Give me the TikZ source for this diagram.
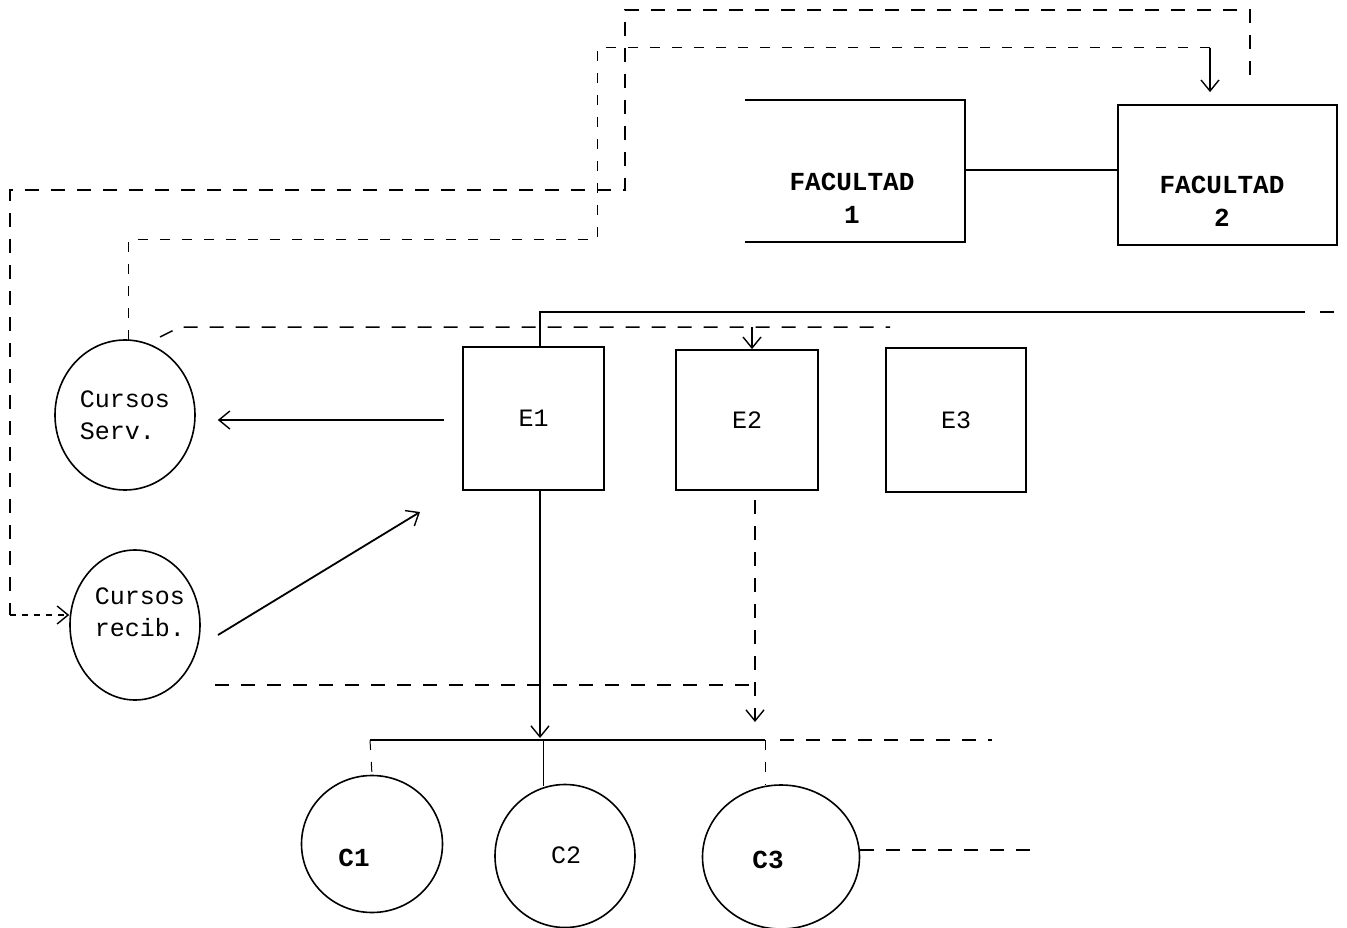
\documentclass[tikz,border=0pt]{standalone}
\usepackage{fontspec}
\setmonofont{Liberation Mono}
\usetikzlibrary{arrows.meta,shapes.geometric}
\begin{document}
\begin{tikzpicture}[x=1pt,y=-1pt,
  txt/.style={font=\ttfamily\fontsize{25}{32}\selectfont, align=center},
  btxt/.style={font=\ttfamily\bfseries\fontsize{26}{33}\selectfont, align=center},
  box/.style={draw, line width=1.8pt, inner sep=0pt, txt},
  oval/.style={ellipse, draw, line width=1.6pt, inner sep=0pt},
  sline/.style={line width=1.8pt},
  dline/.style={line width=1.5pt, dash pattern=on 14pt off 12pt},
  tline/.style={line width=1pt, dash pattern=on 10pt off 12pt},
  tip/.style={-{Straight Barb[length=11pt,width=18pt,line width=1.4pt]}}
]
\useasboundingbox (0,0) rectangle (1347,928);

% faculties
\node[minimum width=220, minimum height=142, inner sep=0pt] (f1) at (855,171) {};
\draw[sline] (f1.north west) -- (f1.north east) -- (f1.south east) -- (f1.south west);
\node[btxt] (f1t) at (852,198) {FACULTAD\\1};
\node[box, minimum width=219, minimum height=140] (f2) at (1227.5,175) {};
\node[btxt] (f2t) at (1222,201) {FACULTAD\\2};
\draw[sline] (f1.east |- 0,170) -- (f2.west |- 0,170);

% departments
\node[box, minimum width=141, minimum height=143] (e1) at (533.5,418.5) {E1};
\node[box, minimum width=142, minimum height=140] (e2) at (747,420) {E2};
\node[box, minimum width=140, minimum height=144] (e3) at (956,420) {E3};

% courses
\node[oval, txt, align=left, minimum width=140, minimum height=150] (cs) at (125,415) {Cursos\\Serv.};
\node[oval, minimum width=130, minimum height=150] (cr) at (135,625) {};
\node[txt] (crt) at (140,612) {Cursos\\recib.};

\node[oval, minimum width=141, minimum height=137] (c1) at (372,844) {};
\node[btxt] (c1t) at (354,858) {C1};
\node[oval, minimum width=140, minimum height=143] (c2) at (565,856) {};
\node[txt] (c2t) at (566,855) {C2};
\node[oval, minimum width=157, minimum height=144] (c3) at (781,857) {};
\node[btxt] (c3t) at (768,860) {C3};

% coordinates
\coordinate (e1t) at (540,347);
\coordinate (topbusL) at (540,312);
\coordinate (topbusR) at (1305,312);
\coordinate (topbusD1) at (1320,312);
\coordinate (topbusD2) at (1342,312);
\coordinate (busL) at (370,740);
\coordinate (busR) at (765,740);
\coordinate (j2) at (543,740);
\coordinate (j2b) at (543,786);
\coordinate (e1b) at (540,490);
\coordinate (e1arr) at (540,738);
\coordinate (e2b) at (755,500);
\coordinate (e2arr) at (755,722);
\coordinate (crh) at (215,685);
\coordinate (e2h) at (755,685);
\coordinate (busD1) at (780,740);
\coordinate (busD2) at (992,740);
\coordinate (c3out) at (1030,850);
\coordinate (crout) at (218,635);
\coordinate (e1in) at (420,512);
\coordinate (cs1) at (160,337);
\coordinate (cs2) at (180,327);
\coordinate (dl27) at (890,327);
\coordinate (e2top) at (752,327);
\coordinate (cstop) at (128,340);
\coordinate (p1) at (128,240);
\coordinate (p2) at (597,240);
\coordinate (p3) at (597,48);
\coordinate (p4) at (1210,48);
\coordinate (q0) at (1250,75);
\coordinate (q1) at (1250,10);
\coordinate (q2) at (625,10);
\coordinate (q3) at (625,190);
\coordinate (q4) at (10,190);
\coordinate (q5) at (10,615);

% E1 to Cursos Serv.
\draw[sline, tip, shorten <=18pt, shorten >=22pt] (e1.west |- 0,420) -- (cs.east |- 0,420);
% Cursos recib. to E1
\draw[sline, tip] (crout) -- (e1in);
% top bus
\draw[sline] (e1t) -- (topbusL) -- (topbusR);
\draw[dline] (topbusD1) -- (topbusD2);
% E1 down to bus
\draw[sline, tip] (e1b) -- (e1arr);
\draw[sline] (busL) -- (busR);
\draw[tline] (busL) -- (c1.north);
\draw[line width=1pt] (j2) -- (j2b);
\draw[tline] (busR) -- (busR |- c3.north);
\draw[dline] (busD1) -- (busD2);
\draw[dline] (c3.east |- c3out) -- (c3out);
% E2 dashed down
\draw[dline, tip] (e2b) -- (e2arr);
\draw[dline] (crh) -- (e2h);
% Cursos Serv. to E2
\draw[dline] (cs1) -- (cs2) -- (dl27);
\draw[line width=1.3pt, tip] (e2top) -- (e2top |- e2.north);
% Cursos Serv. up to Facultad 2
\draw[tline] (cstop) -- (p1) -- (p2) -- (p3) -- (p4);
\draw[line width=1.3pt, tip, shorten >=12pt] (p4) -- (p4 |- f2.north);
% Facultad 2 back to Cursos recib.
\draw[dline] (q0) -- (q1) -- (q2) -- (q3) -- (q4) -- (q5);
\draw[line width=1.5pt, tip, dash pattern=on 6pt off 6pt] (q5) -- (q5 -| cr.west);
\end{tikzpicture}
\end{document}
